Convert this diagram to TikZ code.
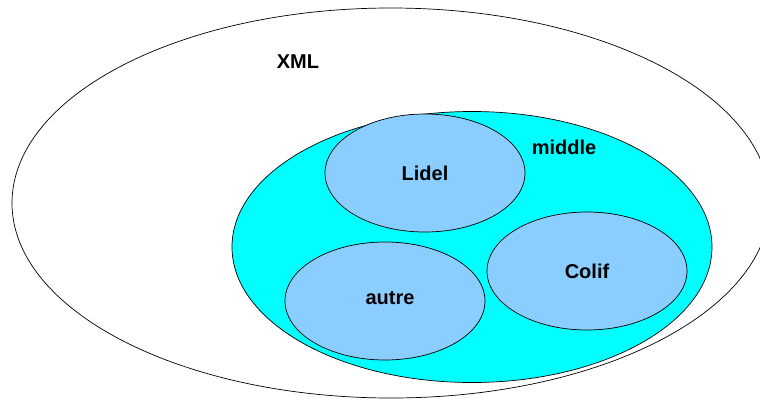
\documentclass[tikz,border=0pt]{standalone}
\usepackage{fontspec}
\setmainfont{Liberation Sans}
\usetikzlibrary{shapes.geometric, positioning}
\definecolor{midcyan}{HTML}{00FFFF}
\definecolor{setblue}{HTML}{8ACEFF}

\begin{document}
\begin{tikzpicture}[
    x=1pt, y=-1pt,
    font=\fontsize{20}{24}\selectfont\bfseries,
    set/.style={ellipse, draw=black, line width=0.7pt, inner sep=0pt},
    sub/.style={set, fill=setblue, minimum width=200pt, minimum height=118pt},
    lbl/.style={inner sep=0pt}
  ]
    \useasboundingbox (0,0) rectangle (760,400);

    \node[set, minimum width=758pt, minimum height=390pt] (xmlset) at (391,203) {};
    \node[lbl] (xml) at (298,62) {XML};

    \node[set, fill=midcyan, minimum width=480pt, minimum height=271pt] (midset) at (472,247) {};
    \node[lbl] (middle) at (564,147) {middle};

    \node[sub] (lidel) at (425,173) {Lidel};
    \node[sub] (autre) at (385,301) {};
    \node[lbl] (autrelbl) at (390,298) {autre};
    \node[sub] (colif) at (587,271) {Colif};
  \end{tikzpicture}
\end{document}
